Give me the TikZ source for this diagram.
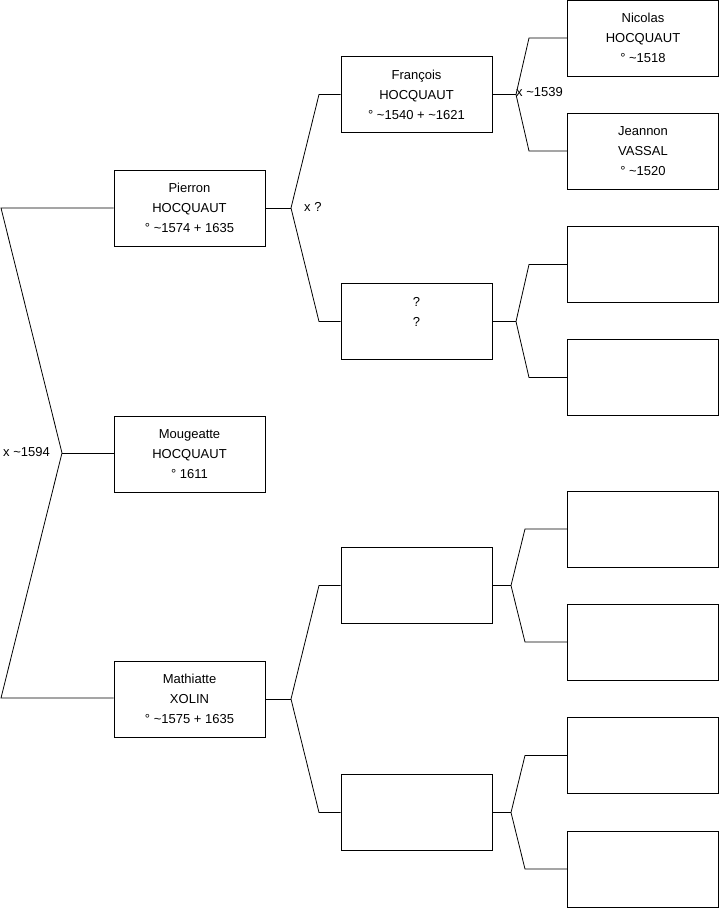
\documentclass[tikz,border=0pt]{standalone}
\usepackage{fontspec}
\setmainfont{Liberation Sans}
\begin{document}
\begin{tikzpicture}[x=1pt,y=-1pt,
  person/.style={draw=black, line width=0.8pt, minimum width=151pt, minimum height=76pt, inner sep=0pt, align=center, font=\fontsize{13}{20}\selectfont},
  link/.style={draw=black, line width=0.8pt},
  lbl/.style={font=\fontsize{13}{15}\selectfont, inner sep=0pt, anchor=west}]
\useasboundingbox (0,0) rectangle (719,908);
% generation 1
\node[person] (pierron) at (189.5,208) {Pierron\\HOCQUAUT\\° \textasciitilde1574 + 1635};
\node[person] (mougeatte) at (189.5,454) {Mougeatte\\HOCQUAUT\\° 1611};
\node[person] (mathiatte) at (189.5,699) {Mathiatte\\XOLIN\\° \textasciitilde1575 + 1635};
% generation 2
\node[person] (francois) at (416.5,94.5) {François\\HOCQUAUT\\° \textasciitilde1540 + \textasciitilde1621};
\node[person] (inconnu) at (416.5,321.5) {?\\?\\\mbox{}};
\node[person] (g2c) at (416.5,585.5) {};
\node[person] (g2d) at (416.5,812.5) {};
% generation 3
\node[person] (nicolas) at (643,38) {Nicolas\\HOCQUAUT\\° \textasciitilde1518};
\node[person] (jeannon) at (643,151) {Jeannon\\VASSAL\\° \textasciitilde1520};
\node[person] (g3c) at (643,264.5) {};
\node[person] (g3d) at (643,377.5) {};
\node[person] (g3e) at (643,529) {};
\node[person] (g3f) at (643,642) {};
\node[person] (g3g) at (643,755.5) {};
\node[person] (g3h) at (643,869) {};
% fork coordinates
\coordinate (a1) at (1,208);
\coordinate (a0) at (62,453);
\coordinate (a2) at (1,698);
\coordinate (b0) at (291,208);
\coordinate (b1) at (319,94.5);
\coordinate (b2) at (319,321.5);
\coordinate (c0) at (291,699);
\coordinate (c1) at (319,585.5);
\coordinate (c2) at (319,812.5);
\coordinate (d0) at (516,94.5);
\coordinate (d1) at (529,38);
\coordinate (d2) at (529,151);
\coordinate (e0) at (516,321.5);
\coordinate (e1) at (529,264.5);
\coordinate (e2) at (529,377.5);
\coordinate (f0) at (511,585.5);
\coordinate (f1) at (525,529);
\coordinate (f2) at (525,642);
\coordinate (g0) at (511,812.5);
\coordinate (g1) at (525,755.5);
\coordinate (g2) at (525,869);
% connectors
\draw[link] (pierron.west |- a1) -- (a1) -- (a0) -- (a2) -- (mathiatte.west |- a2);
\draw[link] (a0) -- (mougeatte.west |- a0);
\draw[link] (pierron.east) -- (b0);
\draw[link] (francois.west) -- (b1) -- (b0) -- (b2) -- (inconnu.west);
\draw[link] (mathiatte.east) -- (c0);
\draw[link] (g2c.west) -- (c1) -- (c0) -- (c2) -- (g2d.west);
\draw[link] (francois.east) -- (d0);
\draw[link] (nicolas.west) -- (d1) -- (d0) -- (d2) -- (jeannon.west);
\draw[link] (inconnu.east) -- (e0);
\draw[link] (g3c.west) -- (e1) -- (e0) -- (e2) -- (g3d.west);
\draw[link] (g2c.east) -- (f0);
\draw[link] (g3e.west) -- (f1) -- (f0) -- (f2) -- (g3f.west);
\draw[link] (g2d.east) -- (g0);
\draw[link] (g3g.west) -- (g1) -- (g0) -- (g2) -- (g3h.west);
% labels
\node[lbl] (m1) at (3,452) {x \textasciitilde1594};
\node[lbl] (m2) at (304,207) {x ?};
\node[lbl] (m3) at (516,92) {x \textasciitilde1539};
\end{tikzpicture}
\end{document}
